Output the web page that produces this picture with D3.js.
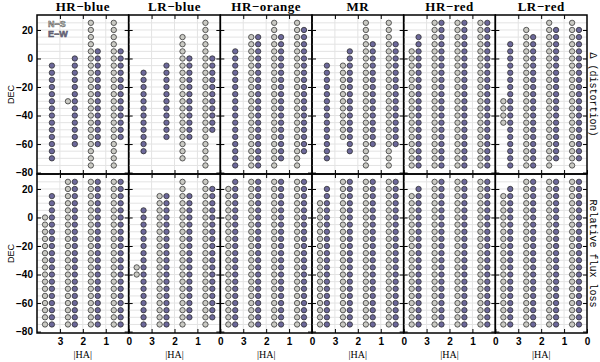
<!DOCTYPE html>
<html>
<head>
<meta charset="utf-8">
<script src="https://cdn.jsdelivr.net/npm/d3@7"></script>
<style>
  body { margin: 0; background: #fff; }
  .tick text { font-family: "Liberation Sans", Arial, sans-serif; font-weight: bold; font-size: 10px; fill: #000; }
  .tick line { stroke: #000; stroke-width: 1; }
</style>
</head>
<body>
<script>
// Panel names and hour-angle columns
var panelNames = ["HR\u2212blue", "LR\u2212blue", "HR\u2212orange", "MR", "HR\u2212red", "LR\u2212red"];
var haColumns = [3.5, 2.5, 1.5, 0.5];
var decGrid = [25, 20, 15, 10, 5, 0, -5, -10, -15, -20, -25, -30, -35, -40, -45, -50, -55, -60, -65, -70, -75];
var decTicks = [20, 0, -20, -40, -60, -80];
var haTicks = [3, 2, 1, 0];

// [first DEC, last DEC] of the dots in each HA column (3.5, 2.5, 1.5, 0.5), one line per panel
// top row: distortion
var distNS = [
  [null, [-30, -30], [25, -75], [25, -75]],
  [null, null, [15, -70], [25, -75]],
  [null, [15, -75], [25, -75], [25, -75]],
  [null, [-5, -55], [25, -75], [25, -75]],
  [[5, -75], [25, -75], [25, -75], [25, -75]],
  [[-30, -45], [20, -75], [25, -75], [25, -75]]
];
var distEW = [
  [[-5, -70], [0, -60], [5, -60], [5, -55]],
  [[-10, -65], [-5, -55], [0, -55], [0, -50]],
  [[5, -75], [15, -75], [15, -70], [20, -65]],
  [[-5, -70], [5, -65], [10, -60], [10, -60]],
  [[15, -75], [25, -75], [25, -75], [25, -75]],
  [[10, -75], [15, -75], [20, -70], [20, -70]]
];
// bottom row: relative flux loss
var fluxNS = [
  [[0, -75], [25, -75], [25, -75], [25, -75]],
  [[-35, -40], [15, -75], [25, -75], [25, -75]],
  [[20, -75], [25, -75], [25, -75], [25, -75]],
  [[10, -75], [25, -75], [25, -75], [25, -75]],
  [[15, -75], [25, -75], [25, -75], [25, -75]],
  [[15, -75], [25, -75], [25, -75], [25, -75]]
];
var fluxEW = [
  [[15, -75], [25, -75], [25, -75], [25, -75]],
  [[5, -75], [15, -75], [15, -70], [20, -70]],
  [[25, -75], [25, -75], [25, -75], [25, -75]],
  [[20, -75], [25, -75], [25, -75], [25, -75]],
  [[20, -75], [25, -75], [25, -75], [25, -75]],
  [[20, -75], [25, -75], [25, -75], [25, -75]]
];

var svgWidth = 600;
var svgHeight = 362;
var margin = {top: 15, right: 13, bottom: 29, left: 37};
var plotWidth = svgWidth - margin.left - margin.right;
var panelWidth = plotWidth / panelNames.length;
var rowHeight = (svgHeight - margin.top - margin.bottom) / 2;

var nsColor = "#c9c9c3";
var ewColor = "#6c6899";
var gridColor = "#e3e3e3";
var haShift = 0.15;

var svg = d3.select("body")
  .append("svg")
  .attr("width", svgWidth)
  .attr("height", svgHeight);

var rows = [
  {ns: distNS, ew: distEW, label: "\u0394 (distortion)"},
  {ns: fluxNS, ew: fluxEW, label: "Relative flux loss"}
];

rows.forEach(function(row, r) {
  var top = margin.top + r * rowHeight;
  var yScale = d3.scaleLinear()
    .domain([-81, 30.5])
    .range([top + rowHeight, top]);

  panelNames.forEach(function(name, p) {
    var x0 = margin.left + p * panelWidth;
    var xScale = d3.scaleLinear()
      .domain([4, 0])
      .range([x0, x0 + panelWidth]);
    var g = svg.append("g");

    // light grid
    g.selectAll(".hgrid").data(decGrid).enter().append("line")
      .attr("x1", x0).attr("x2", x0 + panelWidth)
      .attr("y1", d => yScale(d)).attr("y2", d => yScale(d))
      .attr("stroke", gridColor).attr("stroke-width", 1);
    g.selectAll(".vgrid").data([3, 2, 1]).enter().append("line")
      .attr("x1", d => xScale(d)).attr("x2", d => xScale(d))
      .attr("y1", top).attr("y2", top + rowHeight)
      .attr("stroke", gridColor).attr("stroke-width", 1);

    // dots: N-S grey on the left, E-W purple on the right of each HA column
    haColumns.forEach(function(ha, c) {
      [[row.ns[p][c], ha + haShift, nsColor], [row.ew[p][c], ha - haShift, ewColor]].forEach(function(s) {
        if (!s[0]) return;
        var decs = decGrid.filter(d => d <= s[0][0] && d >= s[0][1]);
        g.selectAll(null).data(decs).enter().append("circle")
          .attr("cx", xScale(s[1]))
          .attr("cy", d => yScale(d))
          .attr("r", 2.7)
          .attr("fill", s[2])
          .attr("stroke", "#222")
          .attr("stroke-width", 0.7);
      });
    });

    // inward ticks on all four sides
    var axLeft = d3.axisLeft(yScale).tickValues(decTicks).tickSize(-4).tickPadding(4);
    if (p > 0) axLeft.tickFormat("");
    g.append("g").attr("transform", `translate(${x0},0)`).call(axLeft).select(".domain").remove();
    g.append("g").attr("transform", `translate(${x0 + panelWidth},0)`)
      .call(d3.axisRight(yScale).tickValues(decTicks).tickSize(-4).tickFormat(""))
      .select(".domain").remove();
    g.append("g").attr("transform", `translate(0,${top})`)
      .call(d3.axisTop(xScale).tickValues([3, 2, 1]).tickSize(-4).tickFormat(""))
      .select(".domain").remove();
    var axBottom = d3.axisBottom(xScale).tickValues(haTicks).tickSize(-4).tickPadding(5)
      .tickFormat(d3.format("d"));
    if (r === 0) axBottom.tickFormat("");
    g.append("g").attr("transform", `translate(0,${top + rowHeight})`).call(axBottom)
      .select(".domain").remove();

    // frame
    g.append("rect")
      .attr("x", x0).attr("y", top)
      .attr("width", panelWidth).attr("height", rowHeight)
      .attr("fill", "none").attr("stroke", "#000").attr("stroke-width", 1.5);

    if (r === 0) {
      svg.append("text")
        .attr("x", x0 + panelWidth / 2).attr("y", 11)
        .attr("text-anchor", "middle")
        .style("font-family", "'Liberation Serif', serif")
        .style("font-weight", "bold").style("font-size", "13px")
        .style("letter-spacing", "0.5px")
        .text(name);
    } else {
      svg.append("text")
        .attr("x", x0 + panelWidth / 2).attr("y", 358)
        .attr("text-anchor", "middle")
        .style("font-family", "'Liberation Serif', serif")
        .style("font-size", "10px")
        .text("|HA|");
    }
  });

  // DEC label
  svg.append("text")
    .attr("transform", `translate(14,${top + rowHeight / 2}) rotate(-90)`)
    .attr("text-anchor", "middle")
    .style("font-family", "'Liberation Sans', sans-serif")
    .style("font-size", "9px")
    .text("DEC");

  // right-hand quantity label
  svg.append("text")
    .attr("transform", `translate(${svgWidth - 10},${top + rowHeight / 2}) rotate(90)`)
    .attr("text-anchor", "middle")
    .style("font-family", "'Liberation Mono', monospace")
    .style("font-size", "10px")
    .text(row.label);
});

// legend in the first panel
[["N\u2212S", nsColor, 27], ["E\u2212W", ewColor, 37]].forEach(function(l) {
  svg.append("text")
    .attr("x", 48).attr("y", l[2])
    .style("font-family", "'Liberation Sans', sans-serif")
    .style("font-weight", "bold").style("font-size", "9px")
    .attr("fill", l[1]).attr("stroke", "#555").attr("stroke-width", 0.5)
    .text(l[0]);
});
</script>
</body>
</html>
